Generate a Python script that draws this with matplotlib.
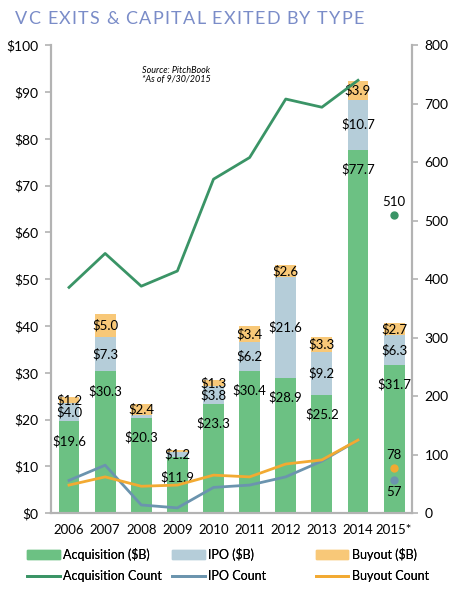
import matplotlib.pyplot as plt
import numpy as np
from matplotlib.patches import Patch
from matplotlib.lines import Line2D

plt.rcParams['font.family'] = ['Lato', 'DejaVu Sans']

years = ['2006', '2007', '2008', '2009', '2010', '2011', '2012', '2013', '2014', '2015*']
acq_val = [19.6, 30.3, 20.3, 11.9, 23.3, 30.4, 28.9, 25.2, 77.7, 31.7]
ipo_val = [4.0, 7.3, 0.6, 1.2, 3.8, 6.2, 21.6, 9.2, 10.7, 6.3]
buy_val = [1.2, 5.0, 2.4, 0.5, 1.3, 3.4, 2.6, 3.3, 3.9, 2.7]
ipo_lbl = ['$4.0', '$7.3', '', '$1.2', '$3.8', '$6.2', '$21.6', '$9.2', '$10.7', '$6.3']
buy_lbl = ['$1.2', '$5.0', '$2.4', '', '$1.3', '$3.4', '$2.6', '$3.3', '$3.9', '$2.7']

acq_cnt = [386, 444, 388, 414, 571, 608, 708, 694, 740]
ipo_cnt = [56, 82, 14, 9, 44, 48, 62, 89, 125]
buy_cnt = [48, 62, 46, 48, 65, 62, 84, 91, 125]
cnt_2015 = {'acq': 510, 'ipo': 57, 'buy': 78}

title = 'VC EXITS & CAPITAL EXITED BY TYPE'

c_acq, c_ipo, c_buy = '#6cc183', '#b5cdd9', '#f8c878'
l_acq, l_ipo, l_buy = '#3a9466', '#6b94ae', '#f2aa32'
grey = '#b3b3b3'

fig = plt.figure(figsize=(4.59, 6.03), dpi=100)
ax = fig.add_axes([0.111, 0.149, 0.787, 0.776])
x = np.arange(len(years))
w = 0.58

acq = np.array(acq_val)
ipo = np.array(ipo_val)
buy = np.array(buy_val)
ax.bar(x, acq, w, color=c_acq, zorder=2)
ax.bar(x, ipo, w, bottom=acq, color=c_ipo, zorder=2)
ax.bar(x, buy, w, bottom=acq + ipo, color=c_buy, zorder=2)

fs = 9.5
for i in range(len(years)):
    ax.annotate(f'${acq[i]:.1f}', (x[i], acq[i]), xytext=(0, -14), textcoords='offset points',
                ha='center', va='center', fontsize=fs, zorder=5)
    if ipo_lbl[i]:
        ax.text(x[i], acq[i] + ipo[i] / 2, ipo_lbl[i], ha='center', va='center', fontsize=fs, zorder=5)
    if buy_lbl[i]:
        ax.text(x[i], acq[i] + ipo[i] + buy[i] / 2, buy_lbl[i], ha='center', va='center', fontsize=fs, zorder=5)

ax.set_xlim(-0.5, 9.5)
ax.set_ylim(0, 100)
ax.set_yticks(range(0, 101, 10))
ax.set_yticklabels([f'${v}' for v in range(0, 101, 10)])
ax.set_xticks(x)
ax.set_xticklabels(years)

ax2 = ax.twinx()
ax2.set_ylim(0, 800)
ax2.set_yticks(range(0, 801, 100))
ax2.plot(x[:9], acq_cnt, color=l_acq, lw=2, zorder=3)
ax2.plot(x[:9], ipo_cnt, color=l_ipo, lw=2, zorder=3)
ax2.plot(x[:9], buy_cnt, color=l_buy, lw=2, zorder=3)
ax2.plot(x[9], cnt_2015['acq'], 'o', color=l_acq, ms=5)
ax2.plot(x[9], cnt_2015['ipo'], 'o', color=l_ipo, ms=5)
ax2.plot(x[9], cnt_2015['buy'], 'o', color=l_buy, ms=5)
ax2.annotate(str(cnt_2015['acq']), (x[9], cnt_2015['acq']), xytext=(0, 9), textcoords='offset points',
             ha='center', va='center', fontsize=fs)
ax2.annotate(str(cnt_2015['buy']), (x[9], cnt_2015['buy']), xytext=(0, 9), textcoords='offset points',
             ha='center', va='center', fontsize=fs)
ax2.annotate(str(cnt_2015['ipo']), (x[9], cnt_2015['ipo']), xytext=(0, -9), textcoords='offset points',
             ha='center', va='center', fontsize=fs)

for a in (ax, ax2):
    a.spines['top'].set_visible(False)
    for s in ('left', 'right', 'bottom'):
        a.spines[s].set_color(grey)
        a.spines[s].set_linewidth(1.5)
    a.tick_params(axis='y', color=grey, length=4, width=1.2, labelsize=10, pad=5)
ax.tick_params(axis='x', length=0, labelsize=9.5, pad=8)

ax.text(0.346, 0.937, 'Source: PitchBook\n*As of 9/30/2015', transform=ax.transAxes,
        ha='center', va='center', fontsize=6.5, style='italic', linespacing=1.0)

# title with letter spacing, one glyph at a time
renderer = fig.canvas.get_renderer()
W = fig.bbox.width
cur = 15.0
track = 1.3
for ch in title:
    if ch == ' ':
        cur += 4.0 + track
        continue
    t = fig.text(cur / W, 0.968, ch, fontsize=13, color='#7a8cc8', ha='left', va='center')
    cur += t.get_window_extent(renderer).width + track

groups = [(c_acq, l_acq, 'Acquisition'), (c_ipo, l_ipo, 'IPO'), (c_buy, l_buy, 'Buyout')]
lx = [0.059, 0.375, 0.688]
for (pc, lc, name), xx in zip(groups, lx):
    hs = [Patch(color=pc), Line2D([], [], color=lc, lw=2)]
    leg = fig.legend(hs, [f'{name} ($B)', f'{name} Count'], loc='upper left',
                     bbox_to_anchor=(xx, 0.092), frameon=False, fontsize=9,
                     handlelength=2.6, handleheight=0.7, handletextpad=0.3,
                     labelspacing=0.75, borderaxespad=0, borderpad=0)
    fig.add_artist(leg)

fig.savefig('out.png', dpi=100)
